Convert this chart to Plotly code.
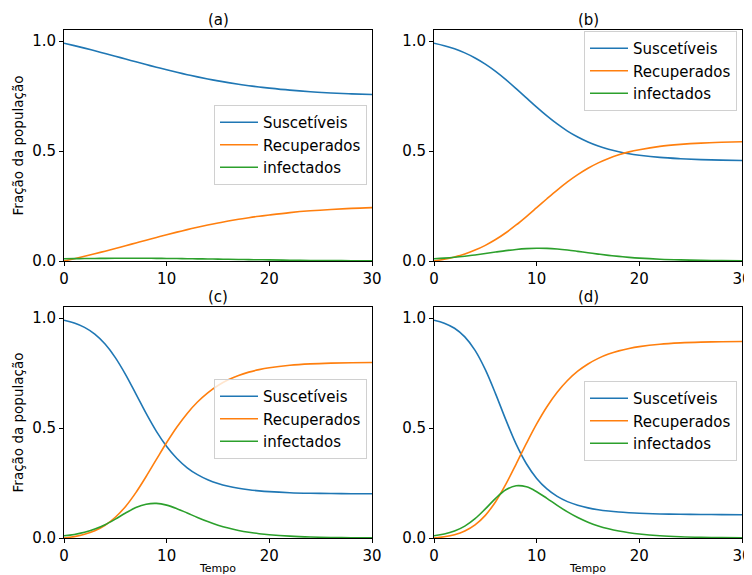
import plotly.graph_objects as go

# ---- data ----
tempo = [0, 1, 2, 3, 4, 5, 6, 7, 8, 9, 10, 11, 12, 13, 14, 15, 16, 17, 18, 19, 20,
         22, 24, 26, 28, 30]

sus_a = [0.990, 0.979, 0.9675, 0.9555, 0.9432, 0.9307, 0.9181, 0.9055, 0.893, 0.8808, 0.869,
         0.8577, 0.847, 0.8369, 0.8275, 0.8188, 0.8108, 0.8035, 0.7969, 0.791, 0.7857,
         0.7765, 0.7693, 0.7638, 0.7596, 0.7565]
rec_a = [0.0, 0.0104, 0.0213, 0.0328, 0.0447, 0.0569, 0.0694, 0.082, 0.0947, 0.1072, 0.1194,
         0.1312, 0.1425, 0.1533, 0.1634, 0.1728, 0.1815, 0.1895, 0.1968, 0.2033, 0.2092,
         0.2198, 0.2281, 0.2343, 0.2391, 0.2425]
inf_a = [0.0100, 0.0106, 0.0112, 0.0117, 0.0121, 0.0124, 0.0125, 0.0125, 0.0123, 0.0120, 0.0116,
         0.0111, 0.0105, 0.0098, 0.0091, 0.0084, 0.0077, 0.0070, 0.0063, 0.0057, 0.0051,
         0.0037, 0.0026, 0.0019, 0.0013, 0.0010]

sus_b = [0.990, 0.9788, 0.9644, 0.946, 0.923, 0.8949, 0.8619, 0.8244, 0.7837, 0.7414, 0.6994,
         0.6595, 0.6228, 0.5905, 0.5636, 0.5411, 0.5227, 0.5084, 0.4967, 0.4873, 0.4808,
         0.4708, 0.465, 0.4609, 0.4586, 0.457]
rec_b = [0.0, 0.0081, 0.0186, 0.0322, 0.0495, 0.0712, 0.0975, 0.1285, 0.1637, 0.2022, 0.2425,
         0.283, 0.3225, 0.3595, 0.3925, 0.4215, 0.446, 0.466, 0.4825, 0.496, 0.506,
         0.521, 0.530, 0.536, 0.5395, 0.5418]
inf_b = [0.0100, 0.0131, 0.0170, 0.0218, 0.0275, 0.0339, 0.0406, 0.0471, 0.0526, 0.0564, 0.0581,
         0.0575, 0.0547, 0.0500, 0.0439, 0.0374, 0.0313, 0.0256, 0.0208, 0.0167, 0.0132,
         0.0082, 0.0050, 0.0031, 0.0019, 0.0012]

sus_c = [0.990, 0.9773, 0.9573, 0.9266, 0.8816, 0.8201, 0.7429, 0.6551, 0.5662, 0.4847, 0.4159,
         0.3612, 0.3190, 0.2878, 0.2646, 0.2475, 0.2350, 0.2259, 0.2192, 0.2143, 0.2107,
         0.2060, 0.2034, 0.2020, 0.2012, 0.2008]
rec_c = [0.0, 0.0064, 0.0168, 0.0331, 0.0580, 0.0942, 0.1437, 0.2064, 0.2795, 0.3572, 0.4339,
         0.5046, 0.5664, 0.6181, 0.6600, 0.6932, 0.7190, 0.7388, 0.7539, 0.7653, 0.7739,
         0.7850, 0.7913, 0.7948, 0.7967, 0.7978]
inf_c = [0.010, 0.0162, 0.0259, 0.0404, 0.0604, 0.0858, 0.1135, 0.1382, 0.1536, 0.1573, 0.1494,
         0.1335, 0.1136, 0.0933, 0.0746, 0.0584, 0.0451, 0.0344, 0.0261, 0.0197, 0.0148,
         0.0083, 0.0046, 0.0025, 0.0014, 0.0008]

sus_d = [0.990, 0.9766, 0.9534, 0.9143, 0.8530, 0.7654, 0.6553, 0.5368, 0.4265, 0.3374, 0.2706,
         0.2229, 0.1889, 0.1653, 0.1488, 0.1370, 0.1286, 0.1225, 0.1181, 0.1149, 0.1125,
         0.1094, 0.1077, 0.1068, 0.1063, 0.1060]
rec_d = [0.0, 0.0054, 0.0151, 0.0318, 0.0596, 0.1030, 0.1650, 0.2447, 0.3360, 0.4299, 0.5185,
         0.5967, 0.6624, 0.7158, 0.7581, 0.7911, 0.8165, 0.8359, 0.8506, 0.8617, 0.8700,
         0.8809, 0.8869, 0.8903, 0.8922, 0.8932]
inf_d = [0.010, 0.0179, 0.0316, 0.0540, 0.0878, 0.1321, 0.1803, 0.2192, 0.2372, 0.2325, 0.2105,
         0.1802, 0.1483, 0.1186, 0.0930, 0.0719, 0.0550, 0.0418, 0.0316, 0.0238, 0.0179,
         0.0100, 0.0056, 0.0031, 0.0017, 0.0010]

series_names = ["Suscetíveis", "Recuperados", "infectados"]
panel_titles = ["(a)", "(b)", "(c)", "(d)"]
x_ticks = [0, 10, 20, 30]
y_ticks = [0.0, 0.5, 1.0]

colors = ["#1f77b4", "#ff7f0e", "#2ca02c"]
FONT = "DejaVu Sans"

panels = [
    (sus_a, rec_a, inf_a),
    (sus_b, rec_b, inf_b),
    (sus_c, rec_c, inf_c),
    (sus_d, rec_d, inf_d),
]

# the page body adds an 8 px margin, so the figure is 8 px smaller and
# every reference pixel position is shifted by that amount
OFF = 8
W, H = 752 - OFF, 575 - OFF
ML, MR, MT, MB = 64 - OFF, 10, 30 - OFF, 37
PW, PH = W - ML - MR, H - MT - MB

def px_x(p):
    return (p - OFF - ML) / PW

def px_y(p):
    return (H - MB - (p - OFF)) / PH

x_domains = [[px_x(64), px_x(372)], [px_x(434), px_x(742)]]
y_domains = [[px_y(261), px_y(30)], [px_y(538), px_y(307)]]

fig = go.Figure()
legend_ids = ["legend", "legend2", "legend3", "legend4"]
legend_pos = [(214, 105), (584, 31), (214, 379), (584, 381)]

for i, (s, r, inf) in enumerate(panels):
    ax = "" if i == 0 else str(i + 1)
    for name, vals, col in zip(series_names, [s, r, inf], colors):
        fig.add_trace(go.Scatter(
            x=tempo, y=vals, mode="lines", name=name,
            line=dict(color=col, width=1.6, shape="spline", smoothing=1.0),
            xaxis="x" + ax, yaxis="y" + ax, legend=legend_ids[i],
            hoverinfo="skip",
        ))

axis_common = dict(
    showline=True, mirror=True, linecolor="black", linewidth=1,
    ticks="outside", ticklen=4, tickwidth=1, tickcolor="black",
    showgrid=False, zeroline=False, automargin=False,
    tickfont=dict(family=FONT, size=15, color="black"),
)

layout = dict(
    width=W, height=H,
    margin=dict(l=ML, r=MR, t=MT, b=MB, autoexpand=False),
    paper_bgcolor="white", plot_bgcolor="white",
    font=dict(family=FONT, color="black"),
    annotations=[],
)

for i in range(4):
    row, col = divmod(i, 2)
    ax = "" if i == 0 else str(i + 1)
    xa = dict(axis_common, domain=x_domains[col], range=[0, 30],
              tickvals=x_ticks, anchor="y" + ax)
    ya = dict(axis_common, domain=y_domains[row], range=[0, 1.05],
              tickvals=y_ticks, tickformat=".1f", anchor="x" + ax)
    if row == 1:
        xa["title"] = dict(text="Tempo", font=dict(family=FONT, size=11), standoff=9)
    if col == 0:
        ya["title"] = dict(text="Fração da população", font=dict(family=FONT, size=13.5), standoff=5)
    layout["xaxis" + ax] = xa
    layout["yaxis" + ax] = ya
    lx, ly = legend_pos[i]
    layout[legend_ids[i]] = dict(
        x=px_x(lx), y=px_y(ly), xanchor="left", yanchor="top",
        bgcolor="rgba(255,255,255,0.8)", bordercolor="#d0d0d0", borderwidth=1,
        itemwidth=38,
        font=dict(family=FONT, size=15, color="black"),
    )
    layout["annotations"].append(dict(
        text=panel_titles[i], xref="paper", yref="paper",
        x=(x_domains[col][0] + x_domains[col][1]) / 2, y=y_domains[row][1],
        xanchor="center", yanchor="bottom", yshift=-1, showarrow=False,
        font=dict(family=FONT, size=15, color="black"),
    ))

fig.update_layout(**layout)
fig.write_html("out.html")
